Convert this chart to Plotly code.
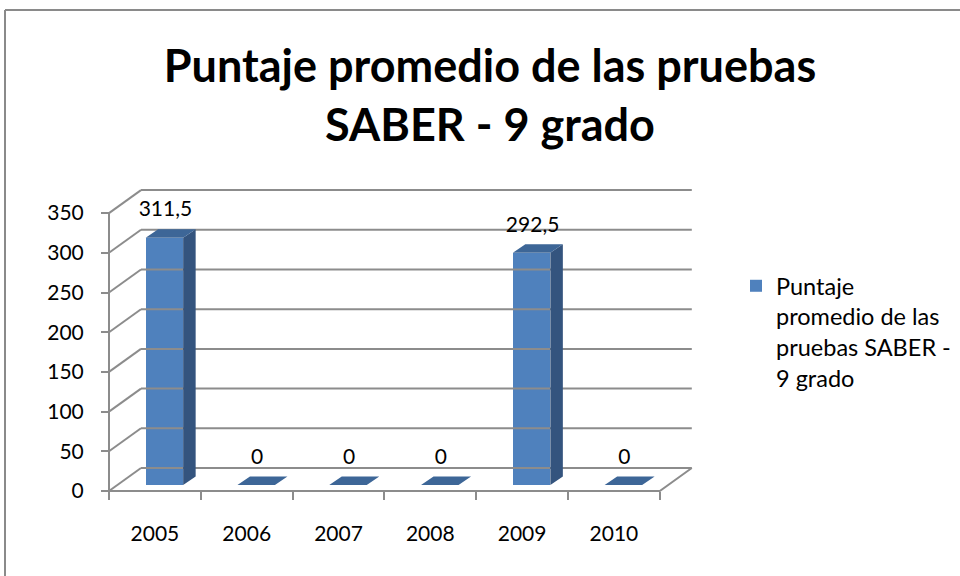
import plotly.graph_objects as go

# ---------------- data ----------------
years = ["2005", "2006", "2007", "2008", "2009", "2010"]
scores = [311.5, 0, 0, 0, 292.5, 0]
y_ticks = [0, 50, 100, 150, 200, 250, 300, 350]
series_name = "Puntaje<br>promedio de las<br>pruebas SABER -<br>9 grado"
title_text = "<b>Puntaje promedio de las pruebas<br>SABER - 9 grado</b>"

# ---------------- geometry (pixel mapping) ----------------
W, H = 960, 576
X0PX, SX = 109.0, 91.8      # pixel of category boundary -0.5, px per category
Y0PX, SY = 491.0, 0.794     # pixel of value 0, px per value unit


def xpx(px):
    return -0.5 + (px - X0PX) / SX


def ypx(py):
    return (Y0PX - py) / SY


def ddx(px):
    return px / SX


def ddy(px):
    return px / SY


WX, WY = ddx(32), ddy(23)          # back wall offset
FX, FY = ddx(9.5), ddy(6)          # bar front face offset
BW = ddx(37.5)                     # bar width
DX, DY = ddx(12.5), ddy(8.5)       # bar depth

n = len(years)
centers = list(range(n))
bounds = [i - 0.5 for i in range(n + 1)]

GRAY = "#8c8c8c"
FONT = "Lato"

fig = go.Figure()

# ---------------- walls / gridlines ----------------
gx, gy = [], []
left, right = bounds[0], bounds[-1]
for v in y_ticks:
    gx += [left + WX, right + WX, None]
    gy += [v + WY, v + WY, None]
    gx += [left, left + WX, None]
    gy += [v, v + WY, None]
gx += [left, right, right + WX, None]
gy += [0, 0, WY, None]
gx += [left, left, None]
gy += [0, y_ticks[-1], None]
fig.add_trace(go.Scatter(x=gx, y=gy, mode="lines",
                         line=dict(color=GRAY, width=2),
                         hoverinfo="skip", showlegend=False))

# ---------------- bars ----------------
bar_x = [c + FX for c in centers]
fig.add_trace(go.Bar(x=bar_x, y=scores, base=[FY] * n, width=BW,
                     marker=dict(color="#4F81BD", line=dict(width=0)),
                     name=series_name, showlegend=True, hoverinfo="skip"))

# side faces
sx, sy = [], []
for xc, v in zip(bar_x, scores):
    if v <= 0:
        continue
    xr = xc + BW / 2
    sx += [xr, xr + DX, xr + DX, xr, xr, None]
    sy += [FY, FY + DY, FY + DY + v, FY + v, FY, None]
fig.add_trace(go.Scatter(x=sx, y=sy, mode="lines", fill="toself",
                         fillcolor="#34547E", line=dict(width=0),
                         hoverinfo="skip", showlegend=False))

# top faces
tx, ty = [], []
for xc, v in zip(bar_x, scores):
    xl, xr = xc - BW / 2, xc + BW / 2
    tx += [xl, xr, xr + DX, xl + DX, xl, None]
    ty += [FY + v, FY + v, FY + v + DY, FY + v + DY, FY + v, None]
fig.add_trace(go.Scatter(x=tx, y=ty, mode="lines", fill="toself",
                         fillcolor="#3D6697", line=dict(width=0),
                         hoverinfo="skip", showlegend=False))

# data labels
labels = [f"{v:g}".replace(".", ",") for v in scores]
fig.add_trace(go.Scatter(x=[xc + ddx(1) for xc in bar_x],
                         y=[v + FY + DY + ddy(18) for v in scores],
                         mode="text", text=labels, textposition="middle center",
                         textfont=dict(family=FONT, size=21, color="black"),
                         hoverinfo="skip", showlegend=False, cliponaxis=False))

# invisible anchor trace for the category-label axis
fig.add_trace(go.Scatter(x=centers, y=[0] * n, xaxis="x2", mode="markers",
                         marker=dict(opacity=0), hoverinfo="skip",
                         showlegend=False))

# ---------------- layout ----------------
xdom = [100 / W, 700 / W]
xrng = [xpx(100), xpx(700)]
ydom = [1 - 505 / H, 1 - 170 / H]
yrng = [ypx(505), ypx(170)]
axis_pos_y = 1 - Y0PX / H

fig.update_layout(
    width=W, height=H, autosize=False,
    margin=dict(l=0, r=0, t=0, b=0, autoexpand=False),
    paper_bgcolor="white", plot_bgcolor="rgba(0,0,0,0)",
    bargap=0, hovermode=False,
    title=dict(text=title_text, x=490 / W, xanchor="center",
               y=1 - 82 / H, yanchor="middle", xref="paper", yref="paper",
               font=dict(family=FONT, size=45, color="black")),
    xaxis=dict(domain=xdom, range=xrng, anchor="free", position=axis_pos_y,
               tickmode="array", tickvals=bounds, ticktext=[""] * len(bounds),
               ticks="outside", ticklen=8, tickwidth=2, tickcolor=GRAY,
               showgrid=False, zeroline=False, showline=False, fixedrange=True),
    xaxis2=dict(overlaying="x", range=xrng, anchor="free", position=axis_pos_y,
                tickmode="array", tickvals=centers, ticktext=years,
                ticks="", ticklabelstandoff=28,
                tickfont=dict(family=FONT, size=21, color="black"),
                showgrid=False, zeroline=False, showline=False, fixedrange=True),
    yaxis=dict(domain=ydom, range=yrng, anchor="free", position=X0PX / W,
               tickmode="array", tickvals=y_ticks,
               ticks="outside", ticklen=8, tickwidth=2, tickcolor=GRAY,
               ticklabelstandoff=13,
               tickfont=dict(family=FONT, size=21, color="black"),
               showgrid=False, zeroline=False, showline=False, fixedrange=True),
    legend=dict(x=736 / W, xanchor="left", y=1 - 264 / H, yanchor="top",
                valign="top", bgcolor="rgba(0,0,0,0)",
                font=dict(family=FONT, size=23.5, color="black")),
    shapes=[
        dict(type="line", xref="paper", yref="paper", x0=5 / W, x1=1.01,
             y0=1 - 10 / H, y1=1 - 10 / H, line=dict(color="#8a8a8a", width=2)),
        dict(type="line", xref="paper", yref="paper", x0=5 / W, x1=5 / W,
             y0=-0.01, y1=1 - 10 / H, line=dict(color="#8a8a8a", width=2)),
    ],
)

fig.write_html("out.html",
               config={"displayModeBar": False},
               post_script="document.body.style.margin='0';")
